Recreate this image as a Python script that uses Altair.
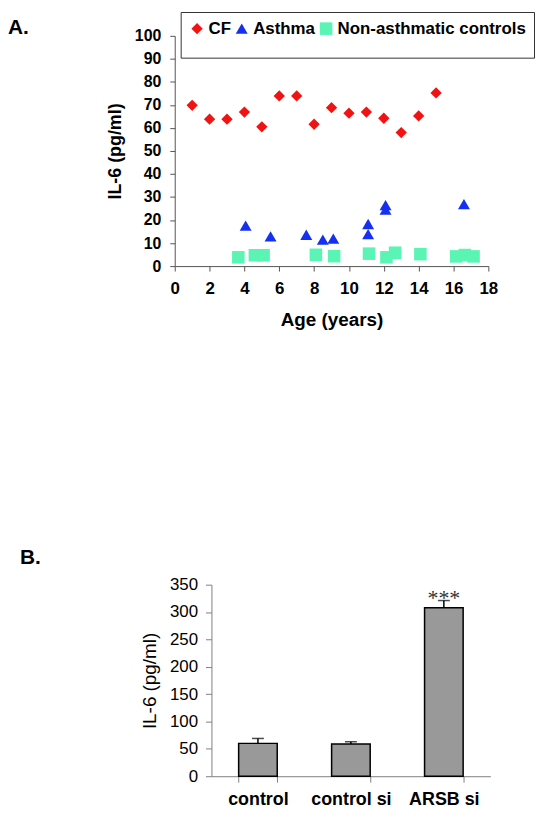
import altair as alt
import pandas as pd

FONT = "Liberation Sans"

# ---------------- Panel A data ----------------
series = ["CF", "Asthma", "Non-asthmatic controls"]
series_colors = ["#F21212", "#1530F0", "#5AF5B4"]
series_shapes = ["diamond", "triangle-up", "square"]
series_sizes = [130, 160, 210]

cf_age = [1, 2, 3, 4, 5, 6, 7, 8, 9, 10, 11, 12, 13, 14, 15]
cf_il6 = [69.8, 63.8, 63.8, 66.9, 60.5, 73.9, 73.9, 61.6, 68.8, 66.4, 66.9, 64.2, 58.0, 65.2, 75.2]

asthma_age = [4.07, 5.5, 7.55, 8.5, 9.1, 11.1, 11.1, 12.1, 12.1, 16.6]
asthma_il6 = [17.6, 12.9, 13.6, 11.5, 11.9, 18.3, 13.9, 26.5, 24.5, 26.9]

ctrl_age = [3.65, 4.6, 5.1, 8.1, 9.15, 11.15, 12.15, 12.65, 14.1, 16.15, 16.65, 17.15]
ctrl_il6 = [3.8, 4.7, 4.7, 4.9, 4.3, 5.4, 3.8, 5.8, 5.2, 4.2, 4.8, 4.2]

x_ticks_a = [0, 2, 4, 6, 8, 10, 12, 14, 16, 18]
y_ticks_a = [0, 10, 20, 30, 40, 50, 60, 70, 80, 90, 100]

# ---------------- Panel B data ----------------
conditions = ["control", "control si", "ARSB si"]
means = [60, 59, 308]
errs = [9, 4, 13]
signif = ["", "", "***"]
y_ticks_b = [0, 50, 100, 150, 200, 250, 300, 350]

dfA = pd.DataFrame({
    "age": cf_age + asthma_age + ctrl_age,
    "il6": cf_il6 + asthma_il6 + ctrl_il6,
    "series": [series[0]] * len(cf_age) + [series[1]] * len(asthma_age) + [series[2]] * len(ctrl_age),
})

legendA = alt.Legend(
    title=" ", titleOrient="bottom", titleFontSize=10, titlePadding=3,
    orient="none", legendX=6, legendY=-24, direction="horizontal",
    strokeColor="#333333", fillColor="white", padding=8,
    labelFont=FONT, labelFontSize=17, labelFontWeight="bold", labelColor="black", labelLimit=0,
    symbolSize=140, columnPadding=2, labelOffset=3, symbolStrokeWidth=0,
)

pointsA = alt.Chart(dfA).mark_point(filled=True, opacity=1).encode(
    x=alt.X("age:Q", scale=alt.Scale(domain=[0, 18], nice=False),
            axis=alt.Axis(title="Age (years)", values=x_ticks_a, labelFlush=False, labelOverlap=False,
                          labelFont=FONT, labelFontSize=17, labelFontWeight="bold", labelPadding=10,
                          titleFont=FONT, titleFontSize=19, titleFontWeight="bold", titlePadding=14,
                          tickSize=5, domainColor="#555555", tickColor="#555555", grid=False)),
    y=alt.Y("il6:Q", scale=alt.Scale(domain=[0, 100], nice=False),
            axis=alt.Axis(title="IL-6 (pg/ml)", values=y_ticks_a, labelFlush=False, labelOverlap=False,
                          labelFont=FONT, labelFontSize=16, labelFontWeight="bold", labelPadding=9,
                          titleFont=FONT, titleFontSize=18, titleFontWeight="bold", titlePadding=10,
                          tickSize=5, domainColor="#555555", tickColor="#555555", grid=False)),
    color=alt.Color("series:N", scale=alt.Scale(domain=series, range=series_colors), legend=legendA),
    shape=alt.Shape("series:N", scale=alt.Scale(domain=series, range=series_shapes), legend=legendA),
    size=alt.Size("series:N", scale=alt.Scale(domain=series, range=series_sizes), legend=None),
)

labA = alt.Chart(alt.Data(values=[{"t": "A."}])).mark_text(
    align="left", baseline="alphabetic", font=FONT, fontSize=21, fontWeight="bold", color="black"
).encode(text="t:N", x=alt.value(-168), y=alt.value(-2))

chartA = alt.layer(pointsA, labA).properties(width=316, height=232)

# ---------------- Panel B ----------------
# Panel B's plot sits 37px right of panel A's; its band range is shifted and the y axis offset inward.
B_SHIFT = 37
B_WIDTH = 281

dfB = pd.DataFrame({
    "cond": conditions,
    "mean": means,
    "upper": [m + e for m, e in zip(means, errs)],
    "sig": signif,
})

xB = alt.X("cond:N", sort=conditions,
           scale=alt.Scale(range=[B_SHIFT, B_SHIFT + B_WIDTH], paddingInner=0.585, paddingOuter=0.2925),
           axis=alt.Axis(title=None, labelAngle=0, tickBand="extent", labelFont=FONT, labelFontSize=18,
                         labelFontWeight="bold", labelPadding=8, tickSize=6,
                         domainColor="#808080", tickColor="#808080"))
axisYB = alt.Axis(title="IL-6 (pg/ml)", values=y_ticks_b, labelOverlap=False, labelFlush=False,
                  offset=-B_SHIFT, labelFont=FONT, labelFontSize=17,
                  labelFontWeight="normal", labelPadding=8, tickSize=6, grid=False,
                  titleFont=FONT, titleFontSize=19, titleFontWeight="normal", titlePadding=10,
                  domainColor="#808080", tickColor="#808080")
scaleYB = alt.Scale(domain=[0, 350], nice=False)

baseB = alt.Chart(dfB).encode(x=xB)
bars = baseB.mark_bar(color="#999999", stroke="black", strokeWidth=1.5).encode(
    y=alt.Y("mean:Q", scale=scaleYB, axis=axisYB))
errline = baseB.mark_rule(color="black", strokeWidth=1.5).encode(
    y=alt.Y("mean:Q", scale=scaleYB, axis=axisYB), y2="upper:Q")
errcap = baseB.mark_tick(color="black", thickness=1.5, size=12).encode(
    y=alt.Y("upper:Q", scale=scaleYB, axis=axisYB))
stars = baseB.mark_text(font="Liberation Serif", fontSize=22, baseline="alphabetic", dy=4,
                        color="#333333").encode(y=alt.Y("upper:Q", scale=scaleYB, axis=axisYB), text="sig:N")

labB = alt.Chart(alt.Data(values=[{"t": "B."}])).mark_text(
    align="left", baseline="alphabetic", font=FONT, fontSize=21, fontWeight="bold", color="black"
).encode(text="t:N", x=alt.value(-156), y=alt.value(-21))

chartB = alt.layer(bars, errline, errcap, stars, labB).properties(width=B_SHIFT + B_WIDTH, height=193)

chart = alt.vconcat(chartA, chartB, spacing=219).properties(
    padding={"left": 0, "top": 0, "right": 0, "bottom": 0}
).configure_view(stroke=None).configure_axis(labelColor="black", titleColor="black")

chart.save("out.html", embed_options={"renderer": "svg", "actions": False})
